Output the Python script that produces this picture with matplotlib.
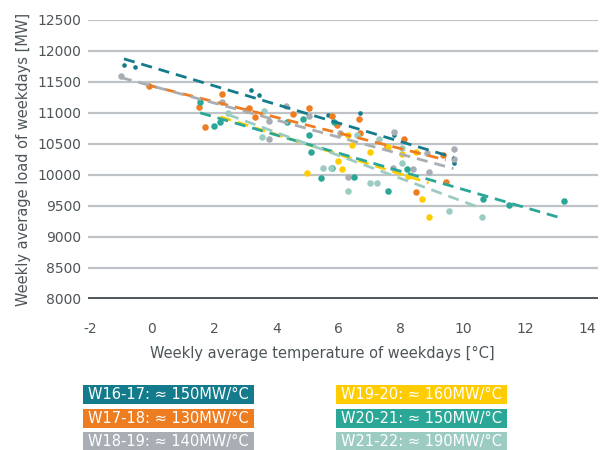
import matplotlib.pyplot as plt
from matplotlib.patches import Rectangle

plt.rcParams['axes.unicode_minus'] = False

# Season labels, sensitivity (MW per degree) and colours
seasons = ['W16-17', 'W17-18', 'W18-19', 'W19-20', 'W20-21', 'W21-22']
slopes = [150, 130, 140, 160, 150, 190]
colors = ['#137b8b', '#ee7d22', '#a8aeb3', '#ffcc00', '#2aa797', '#9ccbc2']

# Weekly points (temperature in degC, load in MW)
temp_w1617 = [-0.9, -0.55, 3.2, 3.45, 5.65, 6.7, 7.8, 9.7]
load_w1617 = [11770, 11740, 11370, 11290, 10970, 11000, 10640, 10190]

temp_w1718 = [-0.1, 1.5, 1.7, 2.25, 3.05, 3.12, 3.3, 4.55, 5.05, 5.8, 5.95,
              6.65, 6.7, 7.55, 8.1, 8.5, 9.35, 9.45]
load_w1718 = [11435, 11100, 10770, 11300, 11050, 11080, 10935, 10985, 11080,
              10950, 10800, 10900, 10680, 10450, 10580, 9725, 10320, 9890]

temp_w1819 = [-1.0, 2.25, 3.75, 3.75, 4.3, 5.05, 6.05, 6.3, 7.75, 7.8, 8.4,
              8.85, 8.9, 9.7, 9.7]
load_w1819 = [11600, 11180, 10860, 10580, 11110, 10950, 10680, 9970, 10110,
              10690, 10100, 10350, 10050, 10420, 10260]

temp_w1920 = [5.0, 6.0, 6.1, 6.3, 6.45, 7.0, 7.6, 8.05, 8.25, 8.5, 8.7, 8.9]
load_w1920 = [10030, 10230, 10100, 10650, 10480, 10360, 10450, 10340, 9980,
              10370, 9610, 9320]

temp_w2021 = [1.55, 2.0, 2.2, 4.35, 4.85, 5.05, 5.1, 5.45, 5.8, 5.85, 6.5,
              7.6, 8.2, 10.65, 11.5, 13.25]
load_w2021 = [11180, 10790, 10850, 10850, 10900, 10650, 10370, 9950, 10110,
              10850, 9970, 9740, 10100, 9610, 9520, 9580]

temp_w2122 = [2.45, 3.6, 3.55, 5.5, 5.75, 6.3, 6.6, 7.0, 7.25, 7.3, 8.05,
              8.05, 9.55, 10.6]
load_w2122 = [11000, 11030, 10610, 10110, 10110, 9740, 10650, 9860, 9870,
              10580, 10440, 10190, 9420, 9320]

# Trend line end points per season (temperature, load)
trend_temp = [(-0.9, 9.7), (-0.15, 9.45), (-1.0, 9.7), (2.2, 8.9),
              (1.55, 13.25), (2.45, 10.6)]
trend_load = [(11870, 10280), (11450, 10240), (11570, 10100), (10935, 9870),
              (11000, 9290), (10970, 9460)]

temps = [temp_w1617, temp_w1718, temp_w1819, temp_w1920, temp_w2021, temp_w2122]
loads = [load_w1617, load_w1718, load_w1819, load_w1920, load_w2021, load_w2122]

text_color = '#4d5559'

fig = plt.figure(figsize=(6.02, 4.5), dpi=100)
ax = fig.add_axes([0.146, 0.336, 0.847, 0.62])

# Gridlines
for v in range(8500, 12501, 500):
    ax.axhline(v, color='#bfc3c7', lw=1.6, zorder=0)
ax.axhline(8000, color='#4a5459', lw=3.5, zorder=1)

# Scatter points
for i in range(len(seasons)):
    size = 11 if i == 0 else 22
    ax.scatter(temps[i], loads[i], s=size, color=colors[i], lw=0, zorder=2)

# Dashed trend lines
for i in range(len(seasons)):
    ax.plot(trend_temp[i], trend_load[i], color=colors[i], lw=2,
            dashes=(4, 2.5), zorder=3)

ax.set_xlim(-2.06, 14.34)
ax.set_ylim(8000, 12500)
ax.set_xticks(range(-2, 15, 2))
ax.set_yticks(range(8000, 12501, 500))
for s in ax.spines.values():
    s.set_visible(False)
ax.tick_params(length=0, labelsize=10, colors=text_color)
ax.tick_params(axis='x', pad=17)
ax.tick_params(axis='y', pad=5)

ax.set_ylabel('Weekly average load of weekdays [MW]', fontsize=10.5,
              color=text_color, labelpad=4)
fig.text(0.535, 0.215, 'Weekly average temperature of weekdays [°C]',
         ha='center', va='center', fontsize=10.5, color=text_color)

# Legend as coloured boxes with white text
box_w = 171 / 602
box_h = 19 / 450
col_x = [83 / 602, 336 / 602]
row_y = [385, 409, 432]
for i in range(len(seasons)):
    col = i // 3
    row = i % 3
    x0 = col_x[col]
    y0 = 1 - (row_y[row] + 19) / 450
    fig.patches.append(Rectangle((x0, y0), box_w, box_h, transform=fig.transFigure,
                                 color=colors[i], lw=0))
    fig.text(x0 + box_w / 2, y0 + box_h / 2,
             f'{seasons[i]}: ≈ {slopes[i]}MW/°C', ha='center', va='center',
             color='white', fontsize=10.5)

fig.savefig('out.png', dpi=100)
